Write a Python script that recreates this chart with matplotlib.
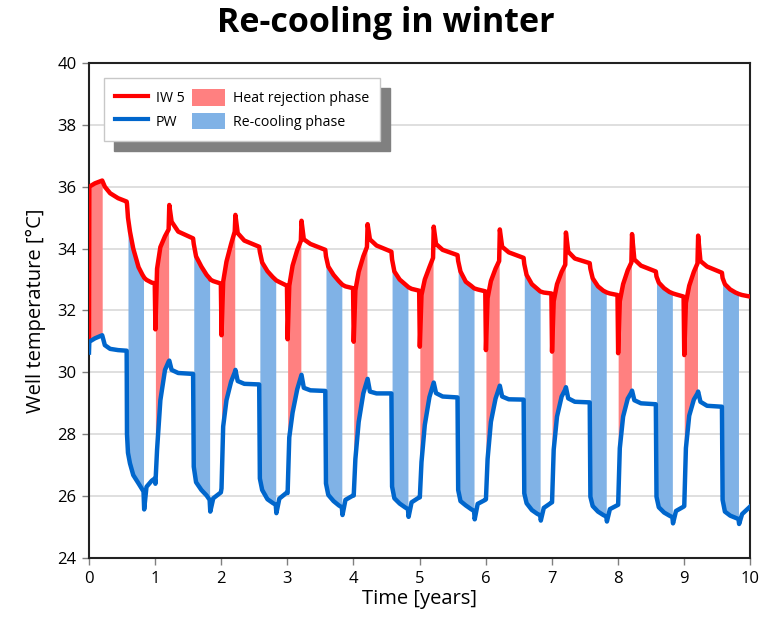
import numpy as np
import matplotlib
matplotlib.use("Agg")
import matplotlib.pyplot as plt
from matplotlib.lines import Line2D
from matplotlib.patches import Patch

plt.rcParams['font.family'] = ['Open Sans', 'DejaVu Sans']

# ---- data ----
time = [
    0.0, 0.005, 0.09, 0.2, 0.24, 0.32, 0.44, 0.57, 0.575, 0.59, 0.62, 0.67, 0.75, 0.81, 0.825, 0.835, 0.87, 0.95, 0.995,
    1.005, 1.03, 1.08, 1.15, 1.205, 1.215, 1.25, 1.35, 1.575, 1.585, 1.62, 1.70, 1.78, 1.825, 1.835, 1.88, 1.995,
    2.005, 2.03, 2.08, 2.15, 2.205, 2.215, 2.25, 2.35, 2.575, 2.585, 2.62, 2.70, 2.78, 2.825, 2.835, 2.88, 2.995,
    3.005, 3.03, 3.08, 3.15, 3.205, 3.215, 3.25, 3.35, 3.575, 3.585, 3.62, 3.70, 3.78, 3.825, 3.835, 3.88, 3.995,
    4.005, 4.03, 4.08, 4.15, 4.205, 4.215, 4.25, 4.35, 4.575, 4.585, 4.62, 4.70, 4.78, 4.825, 4.835, 4.88, 4.995,
    5.005, 5.03, 5.08, 5.15, 5.205, 5.215, 5.25, 5.35, 5.575, 5.585, 5.62, 5.70, 5.78, 5.825, 5.835, 5.88, 5.995,
    6.005, 6.03, 6.08, 6.15, 6.205, 6.215, 6.25, 6.35, 6.575, 6.585, 6.62, 6.70, 6.78, 6.825, 6.835, 6.88, 6.995,
    7.005, 7.03, 7.08, 7.15, 7.205, 7.215, 7.25, 7.35, 7.575, 7.585, 7.62, 7.70, 7.78, 7.825, 7.835, 7.88, 7.995,
    8.005, 8.03, 8.08, 8.15, 8.205, 8.215, 8.25, 8.35, 8.575, 8.585, 8.62, 8.70, 8.78, 8.825, 8.835, 8.88, 8.995,
    9.005, 9.03, 9.08, 9.15, 9.205, 9.215, 9.25, 9.35, 9.575, 9.585, 9.62, 9.70, 9.78, 9.825, 9.835, 9.88, 10.0,
]

iw5 = [
    31.1, 36.0, 36.11, 36.2, 36.0, 35.79, 35.63, 35.52, 35.45, 35.0, 34.55, 34.0, 33.4, 33.15, 33.1, 33.06, 32.99, 32.9, 32.88,
    31.39, 33.35, 34.05, 34.4, 34.62, 35.41, 34.87, 34.55, 34.33, 34.15, 33.75, 33.42, 33.15, 33.04, 33.0, 32.95, 32.87,
    31.2, 32.93, 33.58, 34.15, 34.55, 35.09, 34.5, 34.26, 34.06, 33.9, 33.55, 33.27, 33.08, 32.99, 32.97, 32.92, 32.8,
    31.07, 32.8, 33.45, 33.95, 34.25, 34.9, 34.3, 34.15, 33.96, 33.75, 33.42, 33.15, 32.95, 32.85, 32.83, 32.78, 32.72,
    30.99, 32.65, 33.25, 33.75, 34.05, 34.79, 34.3, 34.1, 33.9, 33.65, 33.26, 33.0, 32.85, 32.77, 32.75, 32.7, 32.64,
    30.83, 32.5, 33.0, 33.4, 33.7, 34.71, 34.15, 33.96, 33.79, 33.6, 33.26, 32.93, 32.8, 32.72, 32.71, 32.68, 32.62,
    30.72, 32.4, 32.95, 33.35, 33.6, 34.62, 34.06, 33.88, 33.7, 33.5, 33.15, 32.85, 32.7, 32.62, 32.61, 32.58, 32.55,
    30.67, 32.3, 32.85, 33.25, 33.48, 34.52, 33.9, 33.68, 33.53, 33.35, 33.04, 32.78, 32.64, 32.59, 32.58, 32.55, 32.5,
    30.62, 32.3, 32.85, 33.3, 33.55, 34.47, 33.65, 33.45, 33.26, 33.1, 32.9, 32.72, 32.6, 32.56, 32.55, 32.52, 32.45,
    30.56, 32.25, 32.8, 33.25, 33.52, 34.42, 33.6, 33.42, 33.22, 33.05, 32.85, 32.68, 32.58, 32.54, 32.53, 32.5, 32.45,
]

pw = [
    30.64, 30.99, 31.1, 31.2, 30.88, 30.76, 30.72, 30.70, 28.0, 27.4, 27.06, 26.68, 26.41, 26.2, 26.15, 25.57, 26.3, 26.5, 26.57,
    26.4, 27.5, 29.1, 30.08, 30.35, 30.38, 30.08, 29.98, 29.95, 26.95, 26.45, 26.2, 26.02, 25.88, 25.5, 25.93, 26.12,
    26.25, 28.25, 29.1, 29.7, 30.0, 30.08, 29.72, 29.63, 29.61, 26.57, 26.2, 25.9, 25.78, 25.72, 25.45, 25.92, 26.12,
    26.1, 27.9, 28.7, 29.45, 29.85, 29.92, 29.5, 29.42, 29.4, 26.41, 26.04, 25.84, 25.7, 25.64, 25.39, 25.88, 26.02,
    26.02, 27.2, 28.4, 29.32, 29.72, 29.79, 29.38, 29.32, 29.32, 26.31, 25.93, 25.76, 25.64, 25.58, 25.33, 25.8, 25.96,
    25.96, 27.1, 28.3, 29.2, 29.6, 29.67, 29.33, 29.22, 29.19, 26.2, 25.84, 25.7, 25.58, 25.52, 25.25, 25.75, 25.88,
    25.9, 27.2, 28.4, 29.15, 29.5, 29.57, 29.22, 29.13, 29.12, 26.09, 25.77, 25.55, 25.43, 25.38, 25.21, 25.62, 25.79,
    25.8, 27.5, 28.57, 29.22, 29.45, 29.52, 29.16, 29.05, 29.03, 25.98, 25.68, 25.5, 25.39, 25.34, 25.18, 25.58, 25.71,
    25.72, 27.55, 28.57, 29.15, 29.35, 29.41, 29.1, 29.0, 28.97, 25.98, 25.64, 25.47, 25.37, 25.32, 25.12, 25.52, 25.66,
    25.68, 27.55, 28.6, 29.12, 29.32, 29.38, 29.05, 28.92, 28.89, 25.88, 25.5, 25.37, 25.3, 25.26, 25.1, 25.42, 25.66,
]

heat_phases = [(0.0, 0.21), (1.0, 1.21), (2.0, 2.21), (3.0, 3.21), (4.0, 4.21),
               (5.0, 5.21), (6.0, 6.21), (7.0, 7.21), (8.0, 8.21), (9.0, 9.21)]
cool_phases = [(0.585, 0.83), (1.585, 1.83), (2.585, 2.83), (3.585, 3.83), (4.585, 4.83),
               (5.585, 5.83), (6.585, 6.83), (7.585, 7.83), (8.585, 8.83), (9.585, 9.83)]

x_ticks = list(range(0, 11))
y_ticks = list(range(24, 41, 2))

# ---- figure ----
fig = plt.figure(figsize=(7.71, 6.26), dpi=100)
ax = fig.add_axes([0.1154, 0.1086, 0.8574, 0.7908])

t = np.array(time)
r = np.array(iw5)
b = np.array(pw)

heat_col = '#FF8080'
cool_col = '#80B2E6'
for (a, e) in heat_phases:
    m = (t >= a) & (t <= e)
    ax.fill_between(t[m], b[m], r[m], color=heat_col, lw=0, zorder=1)
for (a, e) in cool_phases:
    m = (t >= a) & (t <= e)
    ax.fill_between(t[m], b[m], r[m], color=cool_col, lw=0, zorder=1)

ax.plot(t, r, color='#FF0000', lw=3.2, zorder=3, solid_joinstyle='round')
ax.plot(t, b, color='#0066CC', lw=3.2, zorder=3, solid_joinstyle='round')

ax.set_xlim(0, 10)
ax.set_ylim(24, 40)
ax.set_xticks(x_ticks)
ax.set_yticks(y_ticks)
ax.tick_params(axis='both', direction='out', length=5, width=1, color='#808080',
               labelsize=12, pad=4)
ax.yaxis.grid(True, color='#D9D9D9', lw=1.2)
ax.set_axisbelow(True)
for s in ax.spines.values():
    s.set_color('#222222')
    s.set_linewidth(1.5)

ax.set_xlabel('Time [years]', fontsize=14.5, labelpad=2)
ax.set_ylabel('Well temperature [°C]', fontsize=14.5, labelpad=8)
fig.suptitle('Re-cooling in winter', fontsize=24.5, fontweight='bold', y=0.99)

handles = [Line2D([0], [0], color='#FF0000', lw=3),
           Line2D([0], [0], color='#0066CC', lw=3),
           Patch(facecolor=heat_col, edgecolor='none'),
           Patch(facecolor=cool_col, edgecolor='none')]
labels = ['IW 5', 'PW', 'Heat rejection phase', 'Re-cooling phase']
leg = ax.legend(handles, labels, ncol=2, loc='upper left',
                bbox_to_anchor=(0.0227, 0.970), borderaxespad=0,
                fontsize=10.2, frameon=True,
                fancybox=False, edgecolor='#C8C8C8', framealpha=1,
                shadow={'color': '#808080', 'alpha': 1.0, 'ox': 7, 'oy': -7},
                handlelength=2.3, handleheight=1.45, columnspacing=0.55,
                handletextpad=0.55, borderpad=0.8, labelspacing=0.45)
leg.get_frame().set_linewidth(1.0)

fig.savefig('out.png', dpi=100)
